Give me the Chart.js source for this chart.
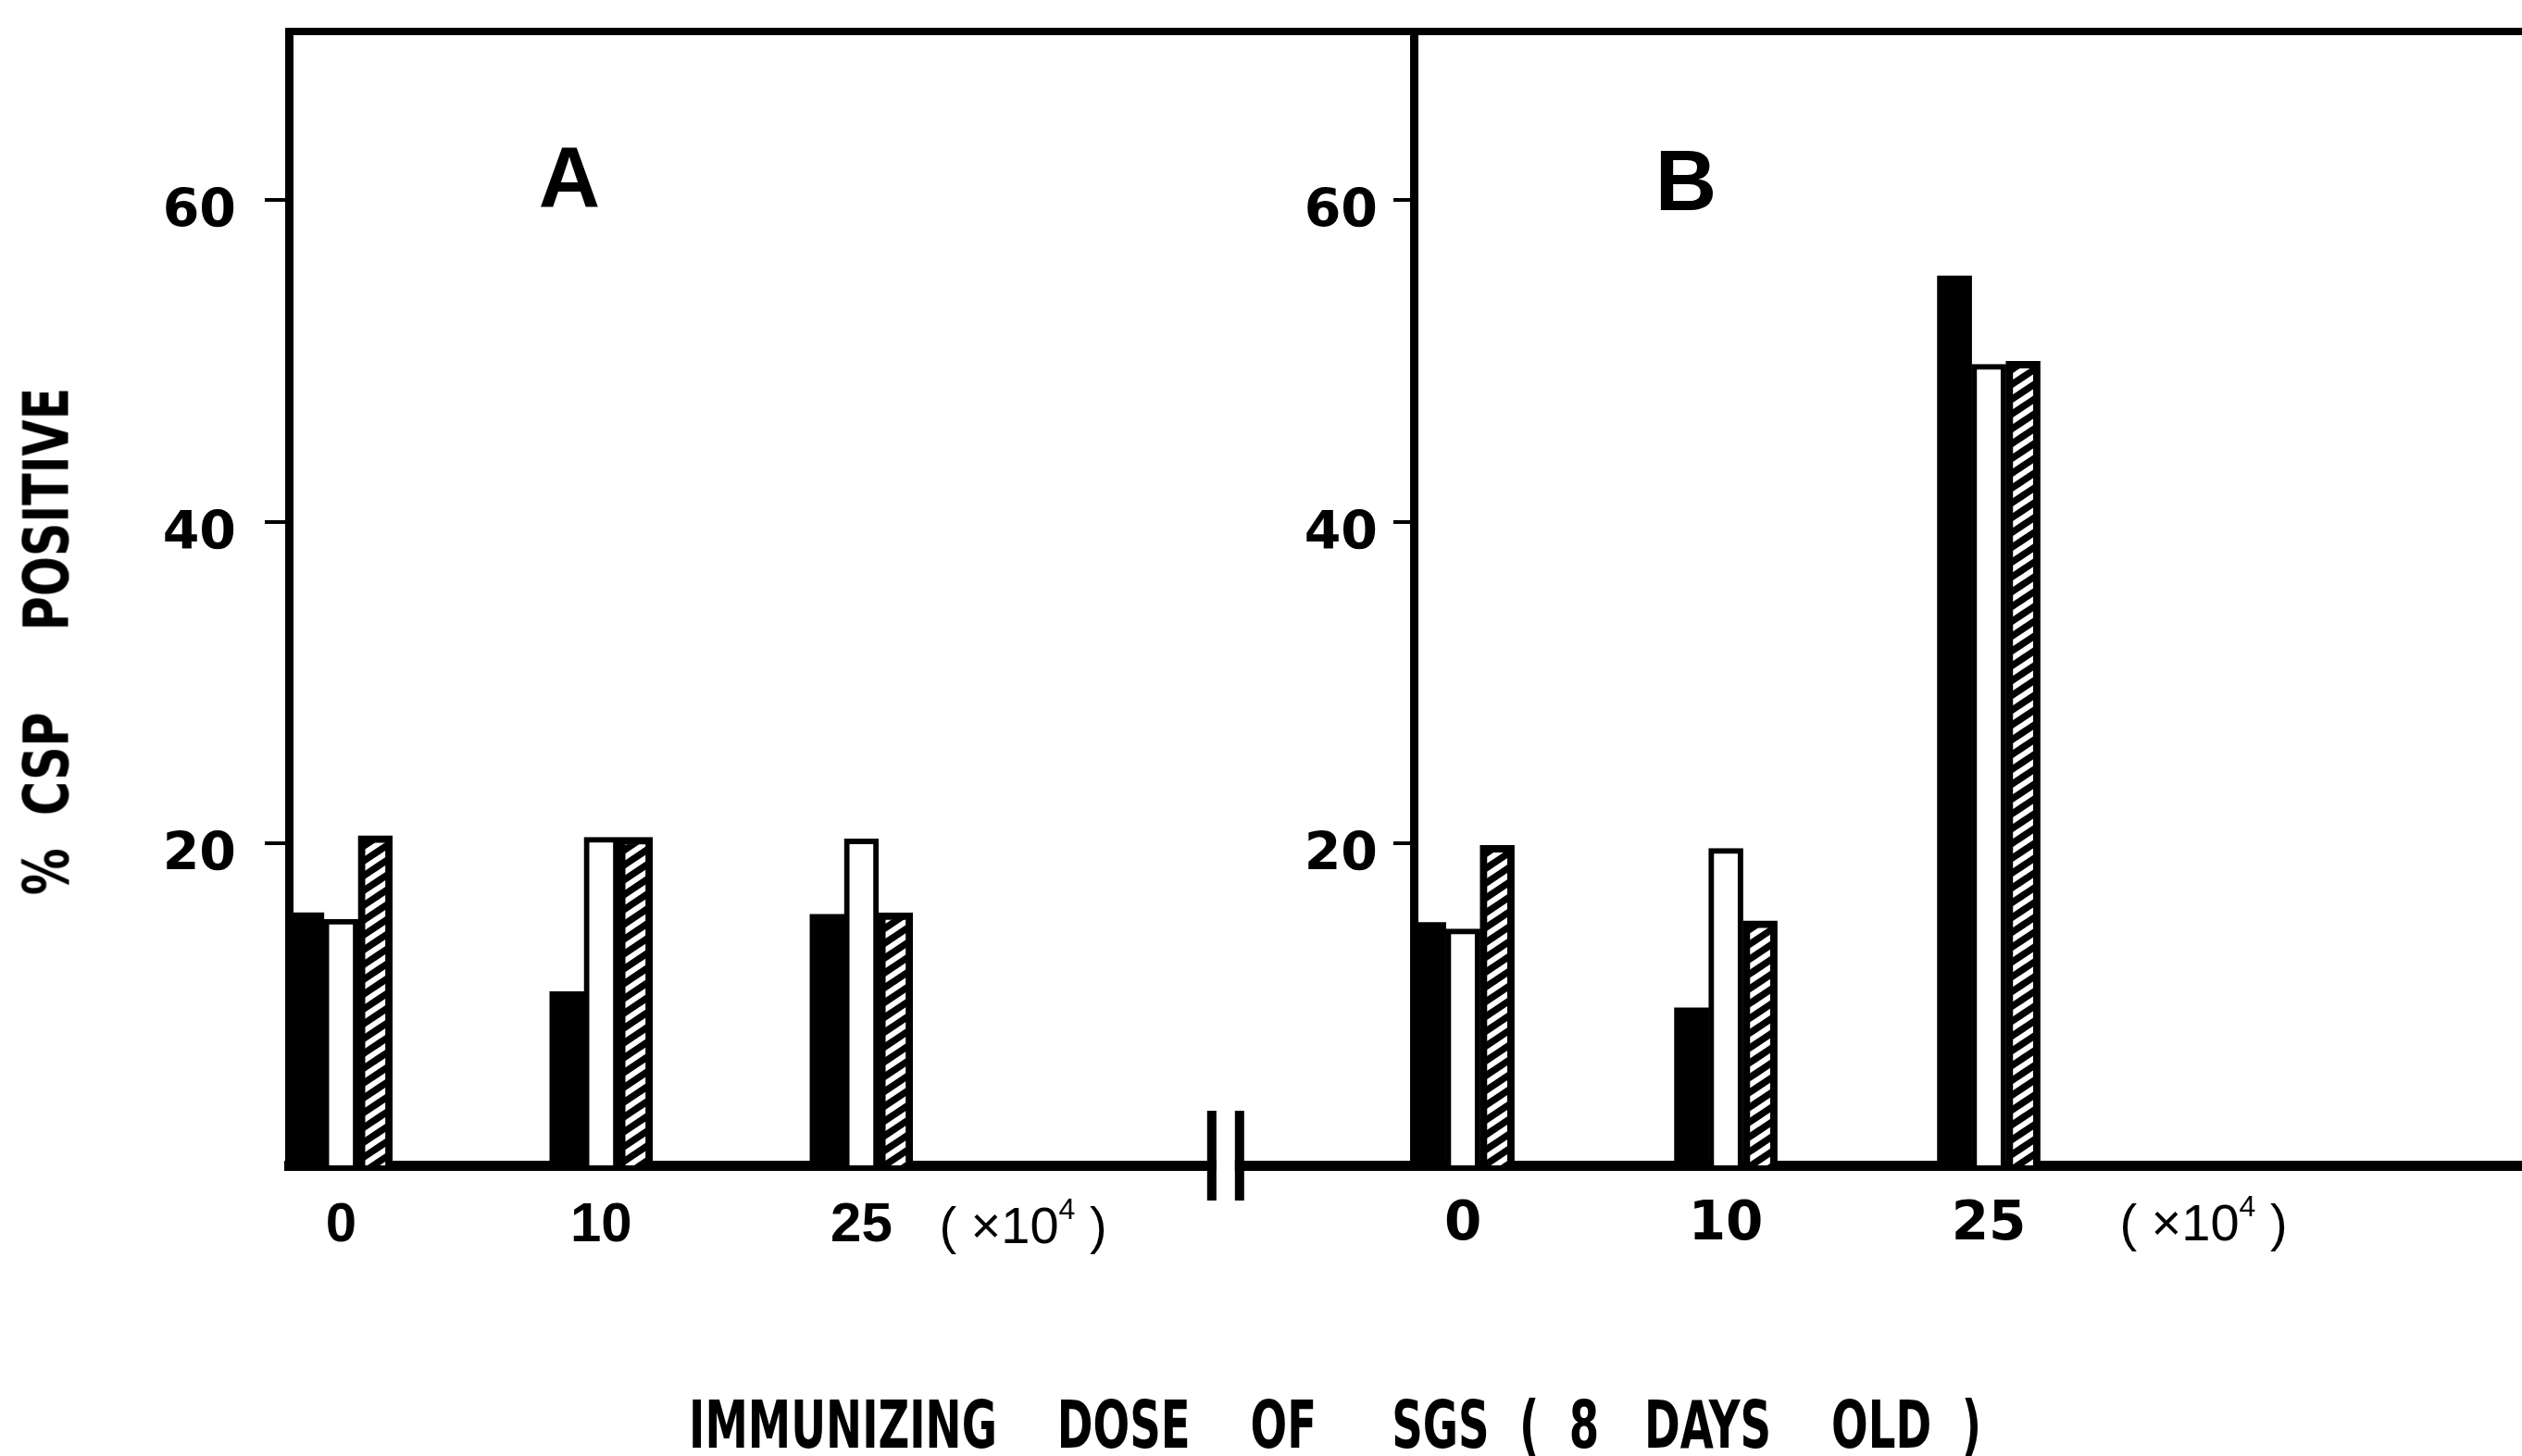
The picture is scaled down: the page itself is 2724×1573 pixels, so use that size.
<!DOCTYPE html>
<html lang="en">
<head>
  <meta charset="UTF-8" />
  <title>% CSP positive – immunizing dose of SGS</title>

  <!-- Chart.js -->
  <script src="https://cdn.jsdelivr.net/npm/chart.js"></script>

  <style>
    html, body {
      margin: 0;
      padding: 0;
      background: #fff;
    }

    body {
      position: relative;
      width: 2724px;
      height: 1573px;
      overflow: hidden;
    }

    /* both panels are separate canvases, B lies over the right end of A */
    #chartA, #chartB {
      position: absolute;
      top: 0;
    }
    #chartA { left: 0; z-index: 1; }
    #chartB { left: 1200px; z-index: 2; }

    /* texts outside the charts */
    .txt {
      position: absolute;
      z-index: 3;
      color: #000;
      white-space: pre;
      line-height: 1;
      transform-origin: center;
    }

    .panel-letter {
      font-family: 'Liberation Sans', Arial, sans-serif;
      font-weight: bold;
      font-size: 92px;
      transform: translate(-50%, -50%);
    }

    .unit {
      font-family: 'Liberation Sans', Arial, sans-serif;
      font-size: 56px;
      transform: translate(-50%, -50%);
    }
    .unit sup {
      font-size: 32px;
      position: relative;
      top: -6px;
      vertical-align: top;
    }

    .axis-title {
      font-family: 'DejaVu Sans Condensed', 'DejaVu Sans', sans-serif;
      font-stretch: condensed;
      font-weight: bold;
    }

    #yTitle {
      left: 51px;
      top: 693px;
      font-size: 67px;
      transform: translate(-50%, -50%) rotate(-90deg) scaleX(0.84);
    }

    #xTitle {
      left: 1442px;
      top: 1539px;
      font-size: 72px;
      transform: translate(-50%, -50%) scaleX(0.72);
    }
  </style>
</head>

<body>
  <canvas id="chartA" width="1527" height="1573"></canvas>
  <canvas id="chartB" width="1524" height="1573"></canvas>

  <div class="txt panel-letter" style="left:615px; top:191px;">A</div>
  <div class="txt panel-letter" style="left:1821px; top:195px;">B</div>

  <div class="txt unit" style="left:1105px; top:1324px;">( ×10<sup>4</sup> )</div>
  <div class="txt unit" style="left:2380px; top:1321px;">( ×10<sup>4</sup> )</div>

  <div id="yTitle" class="txt axis-title">%  CSP     POSITIVE</div>
  <div id="xTitle" class="txt axis-title">IMMUNIZING    DOSE    OF     SGS  (  8   DAYS    OLD  )</div>

  <script>
    // Daten
    const doses = ['0', '10', '25'];
    const yTicks = [20, 40, 60];

    // Panel A
    const aSolid = [15.7, 10.8, 15.6];
    const aOpen = [15.3, 20.4, 20.3];
    const aHatched = [20.5, 20.4, 15.7];

    // Panel B
    const bSolid = [15.1, 9.8, 55.3];
    const bOpen = [14.7, 19.7, 49.8];
    const bHatched = [19.9, 15.2, 50.0];

    // Stelle der Achsenunterbrechung (in Einheiten der x-Achse von A)
    const breakAt = 3.4;

    // Schraffur: schwarz mit weißen Schrägstreifen
    function makeHatch() {
      const c = document.createElement('canvas');
      c.width = 24;
      c.height = 16;
      const g = c.getContext('2d');
      g.fillStyle = '#000';
      g.fillRect(0, 0, 24, 16);
      g.strokeStyle = '#fff';
      g.lineWidth = 6;
      for (let k = -1; k <= 1; k++) {
        g.beginPath();
        g.moveTo(-4, 16 * k + 16 + 8 / 3);
        g.lineTo(28, 16 * k - 8 / 3);
        g.stroke();
      }
      return g.createPattern(c, 'repeat');
    }
    const hatch = makeHatch();

    const toPoints = arr => doses.map((d, i) => ({ x: i, y: arr[i] }));

    function datasets(solid, open, hatched) {
      return [
        {
          label: 'solid',
          data: toPoints(solid),
          backgroundColor: '#000',
          borderWidth: 0,
          barThickness: 37,
          xAxisID: 'x',
          yAxisID: 'y',
        },
        {
          label: 'open',
          data: toPoints(open),
          backgroundColor: '#fff',
          borderColor: '#000',
          borderWidth: 6,
          barThickness: 37,
          xAxisID: 'x',
          yAxisID: 'y',
        },
        {
          label: 'hatched',
          data: toPoints(hatched),
          backgroundColor: hatch,
          borderColor: '#000',
          borderWidth: 8,
          barThickness: 37,
          xAxisID: 'x',
          yAxisID: 'y',
        },
      ];
    }

    // gemeinsame Optionen, p = Einstellungen je Panel
    function panelOptions(p) {
      return {
        responsive: false,
        animation: false,
        events: [],
        layout: { padding: { left: 0, right: 0, top: 34, bottom: 194 } },
        plugins: {
          legend: { display: false },
          tooltip: { enabled: false },
        },
        scales: {
          x: {
            type: 'linear',
            position: 'bottom',
            offset: false,
            min: p.xMin,
            max: p.xMax,
            afterBuildTicks: s => { s.ticks = doses.map((d, i) => ({ value: i })); },
            afterFit: s => { s.height = 120; s.paddingLeft = 0; s.paddingRight = 0; },
            ticks: {
              color: '#000',
              maxRotation: 0,
              autoSkip: false,
              padding: p.xPad,
              font: p.xFont,
              callback: (v, i) => doses[i],
            },
            grid: { display: true, offset: false, drawOnChartArea: false, drawTicks: false },
            border: { display: true, width: 11, color: '#000' },
          },
          xTop: {
            type: 'linear',
            position: 'top',
            offset: false,
            min: 0,
            max: 1,
            afterFit: s => { s.height = 0; s.paddingLeft = 0; s.paddingRight = 0; },
            ticks: { display: false },
            grid: { display: false, drawTicks: false },
            border: { display: true, width: 8, color: '#000' },
          },
          y: {
            type: 'linear',
            min: 0,
            max: 70.5,
            afterBuildTicks: s => { s.ticks = yTicks.map(v => ({ value: v })); },
            afterFit: s => { s.width = p.yWidth; s.paddingTop = 0; s.paddingBottom = 0; },
            ticks: {
              color: '#000',
              padding: p.yPad,
              labelOffset: 14,
              font: { family: 'DejaVu Sans', weight: 'bold', size: 57 },
            },
            grid: {
              drawOnChartArea: false,
              drawTicks: true,
              tickLength: p.tickLen,
              lineWidth: 4,
              color: '#000',
            },
            border: { display: true, width: 9, color: '#000' },
          },
        },
      };
    }

    // Unterbrechung der x-Achse zwischen A und B
    const axisBreak = {
      id: 'axisBreak',
      afterDraw(chart) {
        const { ctx, chartArea } = chart;
        const cx = chart.scales.x.getPixelForValue(breakAt);
        const y0 = chartArea.bottom;
        ctx.save();
        ctx.fillStyle = '#fff';
        ctx.fillRect(cx - 10, y0 - 8, 20, 16);
        ctx.fillStyle = '#000';
        ctx.fillRect(cx - 20, y0 - 59, 10, 97);
        ctx.fillRect(cx + 10, y0 - 59, 10, 97);
        ctx.restore();
      },
    };

    new Chart(document.getElementById('chartA'), {
      type: 'bar',
      data: { labels: doses, datasets: datasets(aSolid, aOpen, aHatched) },
      options: panelOptions({
        xMin: -0.2004,
        xMax: 4.123,
        xPad: 29,
        xFont: { family: 'Liberation Sans', weight: 'bold', size: 60 },
        yWidth: 312,
        yPad: 31,
        tickLen: 26,
      }),
      plugins: [axisBreak],
    });

    new Chart(document.getElementById('chartB'), {
      type: 'bar',
      data: { labels: doses, datasets: datasets(bSolid, bOpen, bHatched) },
      options: panelOptions({
        xMin: -0.187,
        xMax: 4.028,
        xPad: 30,
        xFont: { family: 'DejaVu Sans', weight: 'bold', size: 58 },
        yWidth: 327,
        yPad: 17,
        tickLen: 22,
      }),
    });
  </script>
</body>
</html>
